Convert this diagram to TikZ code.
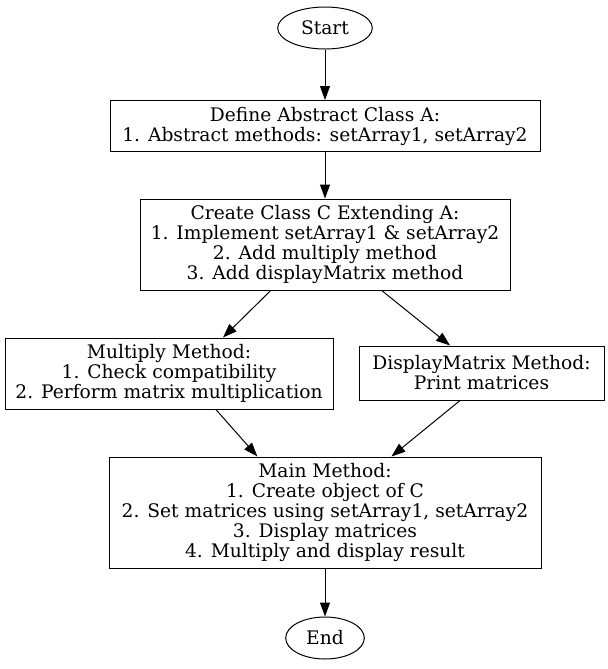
\documentclass[tikz,border=0pt]{standalone}
\usepackage{fontspec}
\setmainfont{DejaVu Serif}
\usepackage{tikz}
\usetikzlibrary{arrows.meta,shapes.geometric}

\begin{document}
\begin{tikzpicture}[
    x=0.75pt, y=-0.75pt,
    font=\fontsize{14}{15}\selectfont,
    line width=0.75pt,
    box/.style={draw, align=center, inner sep=0pt},
    term/.style={draw, ellipse, inner sep=0pt, minimum height=31.5pt},
    arrow/.style={-{Triangle[length=10.5pt,width=7.5pt]}}
]
\useasboundingbox (0,0) rectangle (608,669);

\node[term, minimum width=71pt] (start) at (325,28) {Start};
\node[box, minimum width=322.5pt, minimum height=38.25pt] (a) at (325,126)
    {Define Abstract Class A:\\1. Abstract methods: setArray1, setArray2};
\node[box, minimum width=277.5pt, minimum height=68.25pt] (c) at (325,244.5)
    {Create Class C Extending A:\\1. Implement setArray1 \& setArray2\\2. Add multiply method\\3. Add displayMatrix method};
\node[box, minimum width=246pt, minimum height=53.25pt] (mult) at (169,373.5)
    {Multiply Method:\\1. Check compatibility\\2. Perform matrix multiplication};
\node[box, minimum width=183.75pt, minimum height=40.5pt] (disp) at (481.5,373)
    {DisplayMatrix Method:\\Print matrices};
\node[box, minimum width=324pt, minimum height=83.25pt] (main) at (325,512.5)
    {Main Method:\\1. Create object of C\\2. Set matrices using setArray1, setArray2\\3. Display matrices\\4. Multiply and display result};
\node[term, minimum width=59pt] (end) at (325,638) {End};

\draw[arrow] (start) -- (a);
\draw[arrow] (a) -- (c);
\draw[arrow] ([xshift=-40.7pt]c.south) -- ([xshift=40.5pt]mult.north);
\draw[arrow] ([xshift=42.5pt]c.south) -- ([xshift=-23.6pt]disp.north);
\draw[arrow] ([xshift=35.2pt]mult.south) -- ([xshift=-50.7pt]main.north);
\draw[arrow] ([xshift=-16.1pt]disp.south) -- ([xshift=49.8pt]main.north);
\draw[arrow] (main) -- (end);
\end{tikzpicture}
\end{document}
